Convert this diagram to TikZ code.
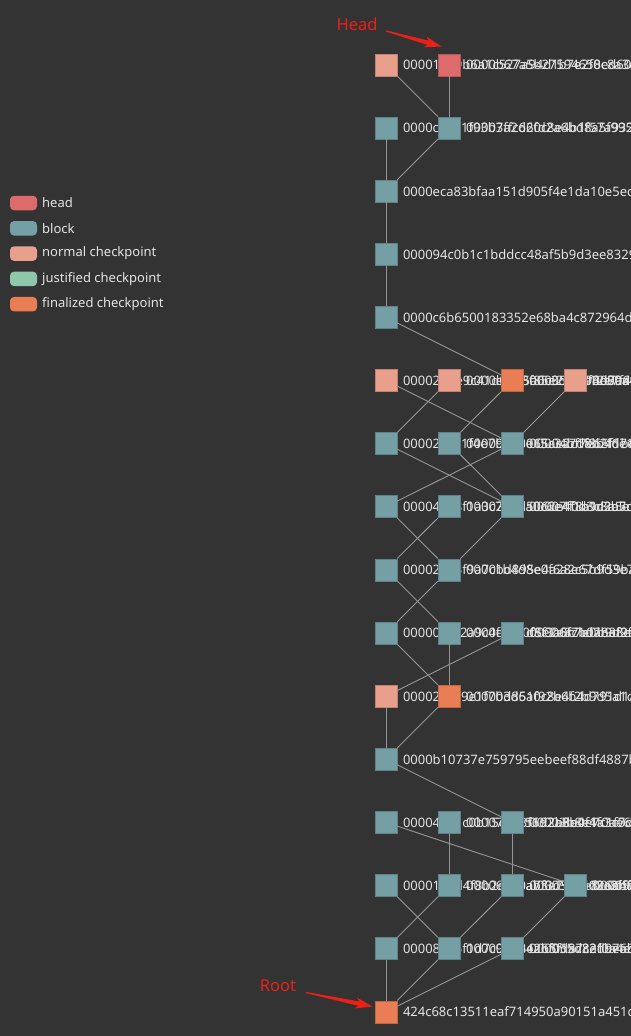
\documentclass[tikz,border=0pt]{standalone}
\usepackage{fontspec}
\setmainfont{Noto Sans}
\usetikzlibrary{calc,arrows.meta}

\definecolor{bgc}{RGB}{51,51,51}
\definecolor{headc}{RGB}{222,107,107}
\definecolor{blockc}{RGB}{116,159,165}
\definecolor{normalc}{RGB}{232,160,141}
\definecolor{justc}{RGB}{143,199,170}
\definecolor{finalc}{RGB}{233,126,84}
\definecolor{linkc}{RGB}{150,150,150}
\definecolor{txtc}{RGB}{228,228,228}
\definecolor{annc}{RGB}{235,32,24}

\tikzset{
  sq/.style={rectangle, minimum size=22pt, inner sep=0pt, fill=#1, draw=#1!82!black, line width=0.6pt},
  hd/.style={sq=headc},
  blk/.style={sq=blockc},
  ncp/.style={sq=normalc},
  fcp/.style={sq=finalc},
  hash/.style={text=txtc, font=\fontsize{13}{15}\selectfont, inner sep=0pt, xshift=5.5pt},
  lbl/.style={label={[hash]right:#1}},
  link/.style={draw=linkc, line width=0.9pt},
  key/.style={rectangle, rounded corners=4pt, minimum width=27pt, minimum height=14.5pt, inner sep=0pt, fill=#1},
  keytxt/.style={anchor=west, text=txtc, font=\fontsize{13}{15}\selectfont, inner sep=0pt},
  anntxt/.style={text=annc, font=\fontsize{16.5}{18}\selectfont, inner sep=0pt}
}

% tapered pointer from #1 to #2
\newcommand\annarrow[2]{%
  \fill[annc] ($(#1)!0.6pt!90:(#2)$) -- ($(#2)!14pt!(#1)!2.2pt!-90:(#1)$) -- ($(#2)!17pt!(#1)!5.5pt!-90:(#1)$) -- (#2)
    -- ($(#2)!17pt!(#1)!5.5pt!90:(#1)$) -- ($(#2)!14pt!(#1)!2.2pt!90:(#1)$) -- ($(#1)!0.6pt!-90:(#2)$) -- cycle;}

\begin{document}
\begin{tikzpicture}[x=1pt, y=-1pt]
\useasboundingbox (0,0) rectangle (631,1036);
\clip (0,0) rectangle (631,1036);
\fill[bgc] (0,0) rectangle (631,1036);

% legend
\node[key=headc] (khead) at (23.5,203){};
\node[keytxt] (thead) at (42,203){head};
\node[key=blockc] (kblock) at (23.5,228.3){};
\node[keytxt] (tblock) at (42,228.3){block};
\node[key=normalc] (knormal) at (23.5,253.6){};
\node[keytxt] (tnormal) at (42,253.6){normal checkpoint};
\node[key=justc] (kjust) at (23.5,278.9){};
\node[keytxt] (tjust) at (42,278.9){justified checkpoint};
\node[key=finalc] (kfinal) at (23.5,304.2){};
\node[keytxt] (tfinal) at (42,304.2){finalized checkpoint};

% blocks
\node[ncp, lbl=000014e9b6a1c527a94d1b7e2f0c8a3d95be6f14c2] (b0c0) at (386,64.8){};
\node[hd, lbl=0000b67a5b27594658ed607b3c1e9f2a4d8b05c7e1] (b0c1) at (449.2,64.8){};
\node[blk, lbl=0000c45e1f93b7a2d60c8e4b1f57a932de06c4b8f1] (b1c0) at (386,127.9){};
\node[blk, lbl=00003ffc62fd2a6bd8a5f99543de7a1c0b6e2f9d84] (b1c1) at (449.2,127.9){};
\node[blk, lbl=0000eca83bfaa151d905f4e1da10e5ec7b2f9a04d3] (b2c0) at (386,191.1){};
\node[blk, lbl=000094c0b1c1bddcc48af5b9d3ee8329f60a1c7e52] (b3c0) at (386,254.2){};
\node[blk, lbl=0000c6b6500183352e68ba4c872964d1e09f3b7a5c] (b4c0) at (386,317.3){};
\node[ncp, lbl=00002b7e9c41d06a3f85e2c1b94d7a60fe13c8b2a5] (b5c0) at (386,380.5){};
\node[ncp, lbl=0000e00f5a6c3d9b812e7f40c6a95d1b3e8f2074ac] (b5c1) at (449.2,380.5){};
\node[fcp, lbl=00005c67f3e89a1b4d0c2e6f7a8b1d93c5e04f2b6a] (b5c2) at (512.4,380.5){};
\node[ncp, lbl=0000a4d1f6e2b8c9073e5a1d4f6b2c8e9a0d3f5b71] (b5c3) at (575.6,380.5){};
\node[blk, lbl=00002c8a1f4e7b9d3065ae2c1f8b4d7e9a03c6f5b2] (b6c0) at (386,443.6){};
\node[blk, lbl=00009540e15c3a7d8b2f6e1c4a9d0b7f3e5c82a164] (b6c1) at (449.2,443.6){};
\node[blk, lbl=00004bf7e65f1b42c9d3a8e0f7b6c1d5a2e94f3b08] (b6c2) at (512.4,443.6){};
\node[blk, lbl=000042e8f1a3c7b9d5062e4f8a1c3b7d9e5f0a2c64] (b7c0) at (386,506.7){};
\node[blk, lbl=00002873a0c6e4f1b9d2a5c8e7f3b06d1a4c9e2f58] (b7c1) at (449.2,506.7){};
\node[blk, lbl=00007f0d3c8a5e1b6f2d9c4a7e0b3f8d1c5a6e92b4] (b7c2) at (512.4,506.7){};
\node[blk, lbl=000025e3f9a7c1b4d8e0f6a2c5b9d3e7f1a4c80b26] (b8c0) at (386,569.8){};
\node[blk, lbl=0000bd895e4a28e67df59ba4f6c1d3e8a2b7f0c915] (b8c1) at (449.2,569.8){};
\node[blk, lbl=00000d7f2a9c4e6b1d8f3a5c7e0b9d2f4a6c1e83b5] (b9c0) at (386,633){};
\node[blk, lbl=0000f6660f5e2a8c1d7b3f9e4a6c0d2b8f5e1a7c93] (b9c1) at (449.2,633){};
\node[blk, lbl=00006f7b0a8e8e2f1e9b6d3c5a7f0e4d2b9c1a5f86] (b9c2) at (512.4,633){};
\node[ncp, lbl=00002c5a9e1f7b3d6a0c8e4f2b9d5a1c7e3f6b0d48] (b10c0) at (386,696.1){};
\node[fcp, lbl=00000d851f92b6b4d791d1a7d3e5c0f8a2b6e4c197] (b10c1) at (449.2,696.1){};
\node[blk, lbl=0000b10737e759795eebeef88df4887b2c6a1e9f03] (b11c0) at (386,759.2){};
\node[blk, lbl=000047a1c0b15c9e3f6d2a8b4e7c1f0d9a5b3e6c28] (b12c0) at (386,822.4){};
\node[blk, lbl=00007d6c5192b8e0f4a3c7d1e6b9f2a5c0d8e4b713] (b12c1) at (449.2,822.4){};
\node[blk, lbl=00003b8e1f0ae6d42f7c9b5a1e3d8c6f0b2a4e9d57] (b12c2) at (512.4,822.4){};
\node[blk, lbl=00001a6d4f8b2e9c0a7f3d5b1e8c6a4f2d9b0e3c75] (b13c0) at (386,885.5){};
\node[blk, lbl=00006590ab3e7c1f5d9a2b8e4c6f0d3a7b1e5c9f82] (b13c1) at (449.2,885.5){};
\node[blk, lbl=0000360e02c8f5a1d7b3e9c4f6a0d2b8e1c5f7a934] (b13c2) at (512.4,885.5){};
\node[blk, lbl=0000f9e1d6a3c8b2f5e0a7d4c1b9e6f3a8d2c5b071] (b13c3) at (575.6,885.5){};
\node[blk, lbl=000083a5f1d7c9e2b4a6f0d8c3e1b7a5f9d2c6e048] (b14c0) at (386,948.6){};
\node[blk, lbl=00000d98e2b5f1a7c3d9e6b0f4a8c2d5e1b7f3a964] (b14c1) at (449.2,948.6){};
\node[blk, lbl=000055d82f0a4e9c7d2b8f5ad903e1c6b4a7f2d98e] (b14c2) at (512.4,948.6){};
\node[fcp, lbl=424c68c13511eaf714950a90151a451c8e2f7b3d09] (b15c0) at (386,1011.8){};

% links
\draw[link](b0c0) -- (b1c1);
\draw[link](b0c1) -- (b1c1);
\draw[link](b1c0) -- (b2c0);
\draw[link](b1c1) -- (b2c0);
\draw[link](b2c0) -- (b3c0);
\draw[link](b3c0) -- (b4c0);
\draw[link](b4c0) -- (b5c2);
\draw[link](b5c0) -- (b6c2);
\draw[link](b5c1) -- (b6c0);
\draw[link](b5c2) -- (b6c1);
\draw[link](b5c3) -- (b6c2);
\draw[link](b6c0) -- (b7c2);
\draw[link](b6c1) -- (b7c2);
\draw[link](b6c2) -- (b7c0);
\draw[link](b7c0) -- (b8c1);
\draw[link](b7c1) -- (b8c0);
\draw[link](b7c2) -- (b8c1);
\draw[link](b8c0) -- (b9c1);
\draw[link](b8c1) -- (b9c0);
\draw[link](b9c0) -- (b10c1);
\draw[link](b9c1) -- (b10c1);
\draw[link](b9c2) -- (b10c0);
\draw[link](b10c0) -- (b11c0);
\draw[link](b10c1) -- (b11c0);
\draw[link](b11c0) -- (b12c2);
\draw[link](b12c0) -- (b13c3);
\draw[link](b12c1) -- (b13c1);
\draw[link](b12c2) -- (b13c2);
\draw[link](b13c0) -- (b14c1);
\draw[link](b13c1) -- (b14c0);
\draw[link](b13c2) -- (b14c1);
\draw[link](b13c3) -- (b14c2);
\draw[link](b14c0) -- (b15c0);
\draw[link](b14c1) -- (b15c0);
\draw[link](b14c2) -- (b15c0);

% annotations
\node[anntxt] (headtxt) at (357,24){Head};
\coordinate (headtail) at (386,31);
\coordinate (headtip) at (441.5,46.5);
\annarrow{headtail}{headtip}
\node[anntxt] (roottxt) at (278,986){Root};
\coordinate (roottail) at (306,992.5);
\coordinate (roottip) at (372.5,1006.5);
\annarrow{roottail}{roottip}

\end{tikzpicture}
\end{document}
